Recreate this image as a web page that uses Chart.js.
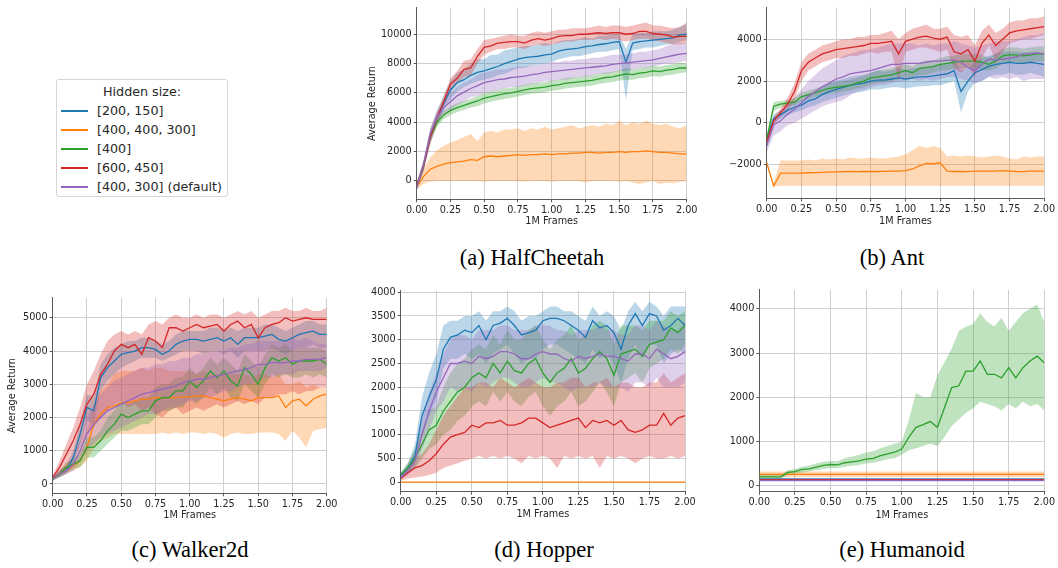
<!DOCTYPE html>
<html>
<head>
<meta charset="utf-8">
<script src="https://cdn.jsdelivr.net/npm/chart.js@4/dist/chart.umd.min.js"></script>
<style>
  body { margin: 0; background: #fff; width: 1058px; height: 568px; position: relative; overflow: hidden; font-family: 'DejaVu Sans', sans-serif; }
  canvas { position: absolute; }
  .cap { position: absolute; width: 240px; text-align: center; font-family: 'Liberation Serif', serif; font-size: 22.5px; line-height: 26px; color: #000; }
  #legend { position: absolute; left: 56px; top: 79px; width: 170px; height: 116px; border: 1px solid #d6d6d6; border-radius: 3px; font-size: 12.7px; color: #262626; }
  #legend .ttl { position: absolute; left: 0; width: 100%; top: 2px; line-height: 19px; text-align: center; }
  #legend .row { position: absolute; left: 0; width: 100%; height: 19px; line-height: 19px; }
  #legend .sw { position: absolute; left: 4px; top: 9px; width: 27px; height: 2px; }
  #legend .lb { position: absolute; left: 40px; top: 0; white-space: nowrap; }
</style>
</head>
<body>
<div id="legend"><div class="ttl">Hidden size:</div></div>
<div class="cap" style="left:412px; top:245px;">(a) HalfCheetah</div>
<div class="cap" style="left:772px; top:245px;">(b) Ant</div>
<div class="cap" style="left:70px; top:537px;">(c) Walker2d</div>
<div class="cap" style="left:424px; top:537px;">(d) Hopper</div>
<div class="cap" style="left:782px; top:537px;">(e) Humanoid</div>
<script>
// x positions (millions of frames), shared by most series
const frames = [0, 0.05, 0.1, 0.15, 0.2, 0.25, 0.3, 0.35, 0.4, 0.45,
  0.5, 0.55, 0.6, 0.65, 0.7, 0.75, 0.8, 0.85, 0.9, 0.95,
  1.0, 1.05, 1.1, 1.15, 1.2, 1.25, 1.3, 1.35, 1.4, 1.45,
  1.5, 1.55, 1.6, 1.65, 1.7, 1.75, 1.8, 1.85, 1.9, 1.95, 2.0];
const flatFrames = [0, 2];
const frameTicks = [0, 0.25, 0.5, 0.75, 1.0, 1.25, 1.5, 1.75, 2.0];

const seriesNames = ['[200, 150]', '[400, 400, 300]', '[400]', '[600, 450]', '[400, 300] (default)'];
const COLORS = ['#1f77b4', '#ff7f0e', '#2ca02c', '#d62728', '#9467bd'];

// ---- HalfCheetah ----
const cheetahTicks = [0, 2000, 4000, 6000, 8000, 10000];
const cheetahBlue = [-300, 1000, 3000, 4300, 5300, 6200, 6700, 6900, 7200, 7400,
  7500, 7650, 7800, 8000, 8150, 8300, 8400, 8450, 8500, 8600,
  8650, 8850, 8950, 9000, 9050, 9150, 9200, 9300, 9350, 9450,
  9500, 8100, 9400, 9500, 9550, 9600, 9650, 9700, 9750, 9950, 10000];
const cheetahBlueLo = [-600, 600, 2500, 3900, 4800, 5600, 6100, 6400, 6600, 6800,
  6900, 7000, 7200, 7300, 7500, 7700, 7700, 7900, 7900, 8000,
  8100, 8300, 8400, 8500, 8500, 8600, 8700, 8800, 8800, 8900,
  9000, 5500, 8900, 9000, 9100, 9100, 9200, 9300, 9300, 9500, 9600];
const cheetahBlueHi = [-100, 1400, 3500, 4800, 5800, 6800, 7400, 7600, 8000, 8300,
  8300, 8600, 8600, 8900, 9000, 9100, 9200, 9200, 9300, 9400,
  9300, 9500, 9600, 9600, 9700, 9800, 9700, 9900, 9900, 10000,
  10000, 9000, 10000, 10100, 10100, 10200, 10200, 10200, 10300, 10500, 10700];
const cheetahOrange = [-400, 300, 800, 1000, 1150, 1250, 1300, 1350, 1450, 1400,
  1650, 1700, 1650, 1700, 1750, 1800, 1750, 1800, 1800, 1850,
  1800, 1850, 1850, 1900, 1900, 1950, 1950, 1900, 1950, 1950,
  2000, 1950, 2000, 2000, 2050, 2000, 1950, 1950, 1900, 1850, 1850];
const cheetahOrangeLo = [-600, -200, -50, 0, 0, 0, 0, 0, 0, 0,
  -50, 0, 0, 0, 0, 0, -50, 0, 0, 0,
  -50, 0, 0, 0, 0, -100, 0, 0, 0, 0,
  -50, 0, -100, -200, -100, 0, -200, -100, -150, -50, 0];
const cheetahOrangeHi = [-200, 800, 1600, 2100, 2400, 2600, 2800, 3000, 3200, 2700,
  3300, 3400, 3300, 3500, 3500, 3600, 3400, 3600, 3500, 3700,
  3500, 3600, 3700, 3800, 3600, 3700, 3800, 3700, 3900, 3800,
  4100, 3800, 4000, 3900, 4100, 3900, 3800, 3900, 3700, 3600, 3800];
const cheetahGreen = [-400, 1000, 3000, 4000, 4500, 4800, 5000, 5150, 5300, 5450,
  5650, 5750, 5850, 5950, 6000, 6100, 6200, 6300, 6350, 6400,
  6500, 6550, 6650, 6700, 6750, 6800, 6850, 6950, 7050, 7100,
  7200, 7300, 7250, 7350, 7400, 7500, 7450, 7550, 7600, 7700, 7700];
const cheetahGreenLo = [-600, 700, 2700, 3700, 4200, 4500, 4700, 4850, 5000, 5100,
  5300, 5400, 5500, 5600, 5650, 5750, 5850, 5950, 6000, 6050,
  6150, 6200, 6300, 6350, 6400, 6450, 6500, 6600, 6700, 6750,
  6850, 6900, 6900, 7000, 7050, 7150, 7100, 7200, 7250, 7350, 7400];
const cheetahGreenHi = [-200, 1300, 3300, 4300, 4800, 5100, 5300, 5450, 5600, 5800,
  6000, 6100, 6200, 6300, 6350, 6450, 6550, 6650, 6700, 6750,
  6850, 6900, 7000, 7050, 7100, 7150, 7200, 7300, 7400, 7450,
  7550, 7700, 7600, 7700, 7750, 7850, 7800, 7900, 7950, 8050, 8000];
const cheetahRed = [-300, 1000, 3000, 4300, 5400, 6600, 7000, 7600, 7700, 8500,
  9100, 9200, 9400, 9450, 9500, 9500, 9400, 9600, 9700, 9600,
  9700, 9850, 9900, 9900, 10000, 10000, 10050, 10100, 10050, 10100,
  10100, 10000, 10050, 10200, 10200, 10050, 10000, 9950, 9800, 9850, 9850];
const cheetahRedLo = [-500, 700, 2500, 3800, 5000, 6100, 6600, 7100, 7200, 8000,
  8600, 8800, 9000, 9000, 9100, 9100, 9000, 9200, 9300, 9200,
  9300, 9400, 9500, 9500, 9600, 9600, 9600, 9700, 9600, 9700,
  9600, 9500, 9600, 9700, 9700, 9600, 9500, 9400, 9300, 9300, 9400];
const cheetahRedHi = [-100, 1300, 3400, 4700, 5800, 7000, 7500, 8200, 8300, 9000,
  9600, 9700, 9800, 9900, 10000, 9900, 9900, 10100, 10200, 10100,
  10200, 10300, 10300, 10400, 10400, 10400, 10500, 10600, 10500, 10600,
  10600, 10500, 10600, 10700, 10800, 10600, 10600, 10500, 10400, 10500, 10800];
const cheetahPurple = [-500, 1100, 3200, 4300, 5000, 5400, 5800, 6050, 6300, 6500,
  6700, 6800, 6900, 6950, 7050, 7100, 7150, 7250, 7300, 7400,
  7450, 7500, 7550, 7600, 7650, 7700, 7750, 7800, 7850, 7950,
  8000, 8050, 8100, 8150, 8200, 8250, 8350, 8450, 8550, 8650, 8700];
const cheetahPurpleLo = [-700, 800, 2800, 3900, 4500, 4800, 5200, 5400, 5700, 5800,
  6000, 6100, 6200, 6300, 6400, 6400, 6500, 6600, 6700, 6800,
  6800, 6900, 6900, 7000, 7100, 7100, 7200, 7300, 7300, 7400,
  7500, 7500, 7600, 7700, 7700, 7800, 7900, 8000, 8000, 8100, 8200];
const cheetahPurpleHi = [-300, 1400, 3600, 4700, 5500, 6000, 6400, 6700, 6900, 7200,
  7400, 7500, 7600, 7600, 7700, 7800, 7800, 7900, 7900, 8000,
  8100, 8100, 8200, 8200, 8300, 8300, 8400, 8400, 8500, 8600,
  8600, 8600, 8700, 8800, 8800, 8900, 9000, 9200, 9300, 9400, 9400];

// ---- Ant ----
const antTicks = [-2000, 0, 2000, 4000];
const antBlue = [-800, 200, 400, 600, 750, 850, 1050, 1150, 1350, 1500,
  1600, 1700, 1800, 1850, 1900, 2000, 2050, 2050, 2100, 2150,
  2100, 2150, 2200, 2200, 2250, 2300, 2350, 2500, 1500, 2000,
  2400, 2550, 2700, 2800, 2850, 2900, 2850, 2850, 2900, 2850, 2800];
const antBlueLo = [-1000, 0, 200, 350, 500, 600, 750, 850, 1000, 1100,
  1200, 1300, 1400, 1450, 1500, 1600, 1600, 1650, 1700, 1700,
  1650, 1700, 1750, 1750, 1800, 1800, 1900, 2000, 500, 1500,
  1900, 2000, 2200, 2300, 2300, 2400, 2300, 2300, 2400, 2300, 2200];
const antBlueHi = [-600, 400, 600, 850, 1000, 1100, 1350, 1450, 1700, 1900,
  2000, 2100, 2200, 2250, 2300, 2400, 2500, 2450, 2500, 2600,
  2550, 2600, 2650, 2650, 2700, 2800, 2800, 3000, 2500, 2600,
  2900, 3100, 3200, 3300, 3400, 3400, 3400, 3350, 3400, 3400, 3300];
const antOrange = [-1900, -3000, -2400, -2400, -2400, -2400, -2380, -2370, -2360, -2350,
  -2340, -2330, -2320, -2330, -2320, -2320, -2320, -2310, -2300, -2300,
  -2280, -2200, -2050, -1930, -1950, -1900, -2300, -2320, -2320, -2330,
  -2300, -2300, -2300, -2300, -2280, -2300, -2320, -2330, -2300, -2300, -2300];
const antOrangeLo = [-2000, -3050, -3000, -3000, -3000, -3000, -3000, -3000, -3000, -3000,
  -3000, -3000, -3000, -3000, -3000, -3000, -3000, -3000, -3000, -3000,
  -3000, -3000, -3000, -3000, -3000, -3000, -3000, -3000, -3000, -3000,
  -3000, -3000, -3000, -3000, -3000, -3000, -3000, -3000, -3000, -3000, -3000];
const antOrangeHi = [-1800, -2900, -1800, -1800, -1800, -1800, -1750, -1800, -1700, -1750,
  -1700, -1750, -1650, -1700, -1700, -1650, -1700, -1700, -1650, -1600,
  -1500, -1300, -1100, -1200, -1100, -1200, -1600, -1550, -1600, -1550,
  -1600, -1650, -1600, -1550, -1600, -1700, -1750, -1600, -1650, -1600, -1600];
const antGreen = [-800, 800, 900, 950, 1000, 1250, 1350, 1450, 1550, 1650,
  1700, 1750, 1800, 1900, 2000, 2150, 2200, 2250, 2300, 2400,
  2500, 2400, 2600, 2650, 2700, 2800, 2850, 2900, 2950, 2950,
  2950, 2900, 2800, 2950, 3200, 3250, 3250, 3200, 3250, 3300, 3300];
const antGreenLo = [-1000, 550, 750, 800, 850, 1050, 1150, 1250, 1350, 1400,
  1450, 1500, 1550, 1650, 1700, 1850, 1900, 1950, 2000, 2100,
  2200, 2100, 2300, 2300, 2400, 2500, 2500, 2600, 2600, 2600,
  2600, 2550, 2500, 2600, 2850, 2900, 2900, 2850, 2900, 2950, 2950];
const antGreenHi = [-600, 1000, 1050, 1100, 1200, 1450, 1550, 1650, 1750, 1900,
  1950, 2000, 2050, 2150, 2250, 2400, 2500, 2550, 2600, 2700,
  2800, 2700, 2900, 3000, 3000, 3100, 3200, 3200, 3300, 3300,
  3300, 3250, 3100, 3300, 3550, 3600, 3600, 3550, 3600, 3650, 3650];
const antRed = [-900, 100, 500, 900, 1500, 2500, 2900, 3100, 3300, 3400,
  3500, 3550, 3600, 3650, 3700, 3800, 3800, 3850, 3900, 3300,
  3900, 4000, 4100, 4150, 4050, 4000, 4100, 3400, 3300, 3500,
  2950, 3800, 4200, 3700, 4000, 4300, 4400, 4450, 4500, 4550, 4600];
const antRedLo = [-1100, -100, 300, 600, 1100, 2000, 2500, 2700, 2900, 3000,
  3100, 3100, 3200, 3200, 3300, 3400, 3300, 3400, 3400, 2000,
  3400, 3500, 3600, 3600, 3500, 3400, 3500, 2600, 2400, 2700,
  2200, 3100, 3700, 3000, 3400, 3800, 3900, 4000, 4000, 4100, 4200];
const antRedHi = [-700, 300, 700, 1200, 1900, 2900, 3300, 3500, 3700, 3800,
  3900, 4000, 4000, 4100, 4100, 4200, 4200, 4300, 4400, 4000,
  4300, 4500, 4600, 4700, 4500, 4500, 4600, 4200, 4100, 4200,
  3700, 4400, 4700, 4300, 4500, 4800, 4900, 4900, 5000, 5000, 5100];
const antPurple = [-1100, -100, 100, 420, 650, 960, 1270, 1500, 1730, 1900,
  2100, 2200, 2350, 2400, 2450, 2500, 2600, 2700, 2800, 2800,
  2850, 2850, 2850, 2900, 2950, 2950, 3000, 3000, 2900, 2650,
  2500, 2800, 3050, 3000, 3050, 3100, 3150, 3300, 3300, 3350, 3300];
const antPurpleLo = [-1400, -600, -400, -100, 0, 200, 400, 600, 800, 900,
  1000, 1100, 1300, 1500, 1600, 1700, 1800, 1800, 1900, 2000,
  2000, 2100, 2000, 2100, 2000, 2100, 2200, 2200, 2100, 2000,
  1900, 2000, 2200, 2100, 2200, 2100, 2200, 2000, 2100, 2100, 2100];
const antPurpleHi = [-800, 200, 400, 900, 1200, 1600, 2000, 2300, 2600, 2800,
  3000, 3200, 3300, 3400, 3500, 3500, 3600, 3700, 3800, 3800,
  3800, 3800, 3700, 3800, 3700, 3800, 3800, 3900, 3800, 3700,
  3600, 3700, 3800, 3900, 3900, 3900, 4000, 4100, 4200, 4200, 4300];

// ---- Walker2d ----
const walkerTicks = [0, 1000, 2000, 3000, 4000, 5000];
const walkerBlue = [150, 300, 400, 800, 1500, 2300, 2200, 3200, 3500, 3700,
  3900, 3950, 4000, 4100, 4100, 4050, 3900, 4000, 4200, 4300,
  4350, 4350, 4300, 4350, 4400, 4300, 4400, 4200, 4400, 4400,
  4400, 4450, 4500, 4350, 4300, 4400, 4500, 4550, 4600, 4500, 4500];
const walkerBlueLo = [120, 200, 300, 600, 1200, 1900, 1800, 2800, 3100, 3300,
  3500, 3600, 3700, 3800, 3800, 3800, 3700, 3800, 3900, 4000,
  4000, 4000, 3900, 4000, 4000, 3900, 4000, 3800, 4000, 4000,
  4000, 4000, 4100, 4000, 3900, 4000, 4100, 4100, 4200, 4100, 4100];
const walkerBlueHi = [180, 400, 550, 1000, 1800, 2700, 2600, 3600, 3900, 4100,
  4200, 4300, 4300, 4400, 4400, 4300, 4200, 4300, 4500, 4600,
  4600, 4600, 4600, 4700, 4700, 4600, 4700, 4600, 4700, 4700,
  4700, 4800, 4800, 4700, 4600, 4700, 4800, 4900, 4900, 4800, 4800];
const walkerOrange = [150, 300, 400, 550, 700, 1100, 1800, 2100, 2300, 2350,
  2450, 2450, 2500, 2550, 2550, 2600, 2600, 2600, 2600, 2620,
  2620, 2640, 2650, 2600, 2550, 2500, 2550, 2600, 2550, 2500,
  2600, 2600, 2600, 2650, 2300, 2500, 2550, 2350, 2550, 2650, 2700];
const walkerOrangeLo = [100, 200, 300, 400, 500, 700, 1100, 1300, 1400, 1500,
  1500, 1500, 1500, 1500, 1500, 1500, 1550, 1500, 1550, 1500,
  1550, 1550, 1500, 1550, 1500, 1400, 1500, 1550, 1500, 1500,
  1550, 1550, 1550, 1500, 1300, 1600, 1400, 1100, 1600, 1650, 1700];
const walkerOrangeHi = [200, 400, 600, 800, 1100, 1600, 2400, 2800, 3000, 3300,
  3400, 3400, 3400, 3500, 3400, 3500, 3500, 3400, 3400, 3400,
  3400, 3300, 3400, 3300, 3300, 3300, 3300, 3300, 3300, 3200,
  3300, 3300, 3200, 3300, 3000, 3000, 3100, 2900, 3000, 2900, 2900];
const walkerGreen = [150, 300, 500, 600, 700, 1100, 1100, 1300, 1600, 1800,
  2100, 2000, 2100, 2200, 2200, 2500, 2600, 2600, 2800, 2800,
  3100, 2900, 3100, 3400, 3200, 3400, 3100, 2950, 3500, 3300,
  3000, 3500, 3800, 3700, 3800, 3600, 3700, 3700, 3700, 3750, 3600];
const walkerGreenLo = [120, 200, 350, 450, 500, 800, 800, 1000, 1200, 1400,
  1600, 1600, 1700, 1800, 1800, 2000, 2200, 2200, 2300, 2300,
  2600, 2400, 2600, 2900, 2700, 2900, 2600, 2500, 3000, 2800,
  2600, 3000, 3300, 3200, 3300, 3200, 3200, 3300, 3200, 3300, 3200];
const walkerGreenHi = [200, 400, 650, 750, 900, 1400, 1400, 1600, 2000, 2200,
  2500, 2400, 2500, 2600, 2600, 2900, 3000, 3000, 3200, 3200,
  3500, 3300, 3500, 3800, 3600, 3800, 3600, 3400, 3900, 3700,
  3500, 3900, 4200, 4100, 4200, 4000, 4100, 4100, 4100, 4100, 4000];
const walkerRed = [200, 500, 900, 1300, 1800, 2400, 2700, 3300, 3600, 4000,
  4200, 4100, 4200, 3900, 4400, 4300, 4100, 4700, 4700, 4600,
  4700, 4800, 4700, 4750, 4800, 4600, 4800, 4900, 4700, 4800,
  4400, 4700, 4800, 4850, 5000, 4900, 4950, 5000, 4950, 4950, 4950];
const walkerRedLo = [150, 300, 500, 800, 1100, 1500, 1700, 2000, 2200, 2400,
  2500, 2300, 2400, 2200, 2300, 2100, 2000, 2200, 2300, 2100,
  2200, 2300, 2200, 2300, 2400, 2300, 2400, 2500, 2400, 2500,
  2400, 2600, 2600, 2700, 2700, 2800, 2700, 2800, 2800, 2900, 2900];
const walkerRedHi = [250, 700, 1200, 1700, 2300, 3000, 3400, 3900, 4300, 4500,
  4600, 4500, 4600, 4500, 4800, 4900, 4800, 5000, 5100, 5000,
  5000, 5100, 5000, 5100, 5100, 5000, 5100, 5200, 5100, 5200,
  5000, 5100, 5200, 5200, 5300, 5200, 5200, 5300, 5200, 5200, 5300];
const walkerPurple = [150, 300, 400, 600, 1000, 1500, 1800, 2000, 2200, 2300,
  2400, 2500, 2600, 2700, 2750, 2800, 2850, 2900, 2950, 3050,
  3100, 3150, 3150, 3200, 3250, 3300, 3350, 3400, 3450, 3500,
  3600, 3600, 3650, 3650, 3650, 3700, 3700, 3750, 3750, 3750, 3800];
const walkerPurpleLo = [100, 200, 300, 400, 700, 1000, 1200, 1400, 1500, 1600,
  1700, 1800, 1900, 2000, 2100, 2100, 2200, 2300, 2300, 2400,
  2500, 2500, 2600, 2600, 2700, 2800, 2800, 2900, 3000, 3000,
  3100, 3200, 3200, 3300, 3300, 3300, 3400, 3400, 3400, 3400, 3500];
const walkerPurpleHi = [200, 400, 550, 800, 1300, 2000, 2400, 2700, 2900, 3100,
  3200, 3300, 3400, 3500, 3500, 3600, 3600, 3700, 3700, 3800,
  3800, 3900, 3900, 4000, 4000, 4000, 4100, 4100, 4200, 4200,
  4300, 4300, 4300, 4300, 4300, 4400, 4300, 4400, 4300, 4200, 4200];

// ---- Hopper ----
const hopperTicks = [0, 500, 1000, 1500, 2000, 2500, 3000, 3500, 4000];
const hopperBlue = [150, 300, 550, 1400, 1800, 2150, 2800, 3050, 3100, 3200,
  3150, 3300, 3000, 3300, 3350, 3450, 3300, 3100, 3150, 3200,
  3400, 3450, 3450, 3400, 3300, 3200, 3050, 3400, 3250, 3300,
  3150, 2800, 3300, 3550, 3300, 3550, 3500, 3200, 3300, 3450, 3300];
const hopperBlueLo = [100, 200, 400, 1000, 1400, 1700, 2400, 2600, 2600, 2700,
  2600, 2700, 2500, 2700, 2800, 2900, 2700, 2500, 2600, 2600,
  2800, 2900, 2900, 2800, 2700, 2600, 2500, 2800, 2600, 2700,
  2500, 2100, 2600, 2900, 2600, 2900, 2900, 2500, 2700, 2800, 2700];
const hopperBlueHi = [200, 400, 800, 1800, 2300, 2700, 3300, 3400, 3400, 3500,
  3500, 3600, 3400, 3600, 3600, 3700, 3600, 3400, 3500, 3500,
  3600, 3700, 3700, 3600, 3600, 3500, 3400, 3700, 3500, 3600,
  3500, 3200, 3600, 3800, 3600, 3800, 3700, 3500, 3700, 3700, 3700];
const hopperOrange = [0, 0];
const hopperOrangeLo = [0, 0];
const hopperOrangeHi = [0, 0];
const hopperGreen = [150, 300, 500, 800, 1100, 1200, 1500, 1700, 1900, 2000,
  2200, 2300, 2200, 2500, 2300, 2550, 2350, 2300, 2500, 2600,
  2300, 2100, 2300, 2400, 2600, 2300, 2400, 2600, 2750, 2600,
  2250, 2700, 2750, 2800, 2650, 2900, 2950, 3000, 3250, 3150, 3300];
const hopperGreenLo = [100, 200, 300, 500, 700, 800, 1000, 1100, 1300, 1400,
  1600, 1700, 1600, 1900, 1700, 1900, 1700, 1600, 1800, 1900,
  1600, 1400, 1600, 1700, 1900, 1600, 1700, 1900, 2100, 1900,
  1600, 2100, 2200, 2300, 2100, 2400, 2500, 2600, 2800, 2700, 2900];
const hopperGreenHi = [200, 400, 700, 1100, 1500, 1600, 2000, 2300, 2500, 2600,
  2800, 2900, 2800, 3100, 2900, 3200, 3000, 3000, 3200, 3300,
  3000, 2800, 3000, 3100, 3300, 3000, 3100, 3300, 3400, 3300,
  2900, 3300, 3300, 3300, 3200, 3400, 3400, 3400, 3600, 3500, 3600];
const hopperRed = [80, 200, 300, 350, 450, 600, 800, 950, 1000, 1050,
  1200, 1150, 1250, 1250, 1300, 1200, 1200, 1250, 1350, 1350,
  1250, 1150, 1200, 1250, 1300, 1350, 1150, 1300, 1250, 1300,
  1200, 1300, 1100, 1050, 1100, 1200, 1200, 1450, 1200, 1350, 1400];
const hopperRedLo = [30, 80, 100, 120, 150, 200, 300, 350, 400, 450,
  500, 550, 500, 550, 500, 550, 500, 400, 550, 500,
  550, 500, 300, 550, 500, 550, 500, 550, 300, 550,
  500, 550, 500, 400, 500, 550, 500, 500, 550, 500, 550];
const hopperRedHi = [120, 300, 500, 600, 800, 1100, 1400, 1600, 1800, 2000,
  2000, 2100, 2100, 2000, 2200, 2100, 2000, 2100, 2200, 2100,
  2000, 2000, 2100, 2100, 2200, 2200, 2000, 2100, 2100, 2200,
  2000, 2100, 2100, 2000, 2000, 2100, 2100, 2300, 2100, 2200, 2300];
const hopperPurple = [100, 250, 450, 1000, 1500, 1900, 2200, 2500, 2500, 2550,
  2500, 2650, 2600, 2650, 2750, 2750, 2700, 2600, 2600, 2700,
  2750, 2700, 2700, 2600, 2550, 2650, 2600, 2650, 2700, 2650,
  2650, 2600, 2550, 2700, 2700, 2600, 2800, 2700, 2600, 2650, 2750];
const hopperPurpleLo = [60, 150, 300, 700, 1100, 1500, 1700, 2000, 1900, 2000,
  1900, 2100, 2000, 2100, 2200, 2200, 2100, 2000, 2000, 2100,
  2200, 2100, 2100, 2000, 1900, 2000, 2000, 2000, 2100, 2000,
  2000, 2000, 1900, 2100, 2100, 2000, 2200, 2000, 2000, 2000, 2100];
const hopperPurpleHi = [150, 350, 650, 1300, 1900, 2300, 2700, 3000, 3100, 3100,
  3000, 3200, 3200, 3200, 3300, 3300, 3200, 3200, 3200, 3300,
  3300, 3300, 3200, 3200, 3100, 3200, 3200, 3200, 3300, 3200,
  3200, 3100, 3100, 3300, 3300, 3200, 3400, 3300, 3200, 3200, 3400];

// ---- Humanoid ----
const humanoidTicks = [0, 1000, 2000, 3000, 4000];
const humanoidBlue = [150, 150];
const humanoidBlueLo = [125, 125];
const humanoidBlueHi = [175, 175];
const humanoidOrange = [255, 255];
const humanoidOrangeLo = [200, 200];
const humanoidOrangeHi = [320, 320];
const humanoidGreen = [200, 200, 200, 200, 300, 320, 370, 380, 420, 460,
  480, 470, 520, 540, 560, 600, 620, 680, 720, 760,
  830, 1100, 1320, 1380, 1450, 1320, 1770, 2220, 2260, 2590,
  2590, 2820, 2520, 2520, 2440, 2670, 2440, 2670, 2820, 2930, 2780];
const humanoidGreenLo = [150, 150, 150, 150, 250, 270, 300, 320, 350, 380,
  400, 400, 430, 450, 470, 500, 520, 560, 600, 620,
  700, 800, 850, 900, 950, 900, 1100, 1350, 1500, 1650,
  1750, 1900, 1850, 1800, 1700, 1850, 1750, 1900, 1800, 1850, 1700];
const humanoidGreenHi = [250, 250, 250, 250, 350, 380, 430, 460, 500, 540,
  560, 560, 620, 660, 700, 750, 780, 850, 900, 950,
  1000, 1500, 2100, 2000, 2000, 2500, 2800, 3100, 3500, 3600,
  3650, 3900, 3700, 3600, 3800, 3500, 3700, 3900, 4000, 4100, 3700];
const humanoidRed = [140, 140];
const humanoidRedLo = [120, 120];
const humanoidRedHi = [160, 160];
const humanoidPurple = [120, 120];
const humanoidPurpleLo = [90, 90];
const humanoidPurpleHi = [155, 155];

const TEXT = '#262626';
const GRID = '#cfcfcf';
const AXIS = '#5a5a5a';
const TICK_FONT = { family: 'DejaVu Sans', size: 9.7 };

function pts(xs, ys) {
  return xs.map((x, i) => ({ x: x, y: ys[i] }));
}

function fade(hex, a) {
  const n = parseInt(hex.slice(1), 16);
  return `rgba(${n >> 16}, ${(n >> 8) & 255}, ${n & 255}, ${a})`;
}

function fmtY(v) {
  return v < 0 ? '\u2212' + Math.abs(v) : String(v);
}

// one series -> band (hi filled down to lo) + mean line
function seriesSets(xs, mean, lo, hi, k) {
  const c = COLORS[k];
  return [
    { data: pts(xs, hi), borderWidth: 0, backgroundColor: fade(c, 0.3), fill: '+1', order: 30 - k },
    { data: pts(xs, lo), borderWidth: 0, fill: false, order: 30 - k },
    { data: pts(xs, mean), borderColor: c, borderWidth: 1.3, fill: false, order: 10 - k },
  ];
}

const panels = [
  {
    left: 363, top: 0, w: 337, h: 231, yw: 53.7, xh: 31.7, padTop: 6.7, padRight: 13.3,
    yMin: -1250, yMax: 11800, yTicks: cheetahTicks, yTitle: true,
    series: [
      [frames, cheetahBlue, cheetahBlueLo, cheetahBlueHi],
      [frames, cheetahOrange, cheetahOrangeLo, cheetahOrangeHi],
      [frames, cheetahGreen, cheetahGreenLo, cheetahGreenHi],
      [frames, cheetahRed, cheetahRedLo, cheetahRedHi],
      [frames, cheetahPurple, cheetahPurpleLo, cheetahPurpleHi],
    ],
  },
  {
    left: 710, top: 0, w: 348, h: 231, yw: 56.7, xh: 32.7, padTop: 1.7, padRight: 13.7,
    yMin: -3600, yMax: 5500, yTicks: antTicks, yTitle: false,
    series: [
      [frames, antBlue, antBlueLo, antBlueHi],
      [frames, antOrange, antOrangeLo, antOrangeHi],
      [frames, antGreen, antGreenLo, antGreenHi],
      [frames, antRed, antRedLo, antRedHi],
      [frames, antPurple, antPurpleLo, antPurpleHi],
    ],
  },
  {
    left: 3, top: 290, w: 337, h: 235, yw: 49.7, xh: 31.7, padTop: 6.7, padRight: 13.3,
    yMin: -280, yMax: 5600, yTicks: walkerTicks, yTitle: true,
    series: [
      [frames, walkerBlue, walkerBlueLo, walkerBlueHi],
      [frames, walkerOrange, walkerOrangeLo, walkerOrangeHi],
      [frames, walkerGreen, walkerGreenLo, walkerGreenHi],
      [frames, walkerRed, walkerRedLo, walkerRedHi],
      [frames, walkerPurple, walkerPurpleLo, walkerPurpleHi],
    ],
  },
  {
    left: 350, top: 283, w: 350, h: 241, yw: 50.7, xh: 32.3, padTop: 6.3, padRight: 15,
    yMin: -200, yMax: 4030, yTicks: hopperTicks, yTitle: false,
    series: [
      [frames, hopperBlue, hopperBlueLo, hopperBlueHi],
      [flatFrames, hopperOrange, hopperOrangeLo, hopperOrangeHi],
      [frames, hopperGreen, hopperGreenLo, hopperGreenHi],
      [frames, hopperRed, hopperRedLo, hopperRedHi],
      [frames, hopperPurple, hopperPurpleLo, hopperPurpleHi],
    ],
  },
  {
    left: 710, top: 282, w: 348, h: 243, yw: 49.3, xh: 33.3, padTop: 6.3, padRight: 13.7,
    yMin: -135, yMax: 4430, yTicks: humanoidTicks, yTitle: false,
    series: [
      [flatFrames, humanoidBlue, humanoidBlueLo, humanoidBlueHi],
      [flatFrames, humanoidOrange, humanoidOrangeLo, humanoidOrangeHi],
      [frames, humanoidGreen, humanoidGreenLo, humanoidGreenHi],
      [flatFrames, humanoidRed, humanoidRedLo, humanoidRedHi],
      [flatFrames, humanoidPurple, humanoidPurpleLo, humanoidPurpleHi],
    ],
  },
];

panels.forEach((p) => {
  const cv = document.createElement('canvas');
  cv.width = p.w;
  cv.height = p.h;
  cv.style.left = p.left + 'px';
  cv.style.top = p.top + 'px';
  cv.style.width = p.w + 'px';
  cv.style.height = p.h + 'px';
  document.body.appendChild(cv);

  const datasets = [];
  p.series.forEach((s, k) => datasets.push(...seriesSets(s[0], s[1], s[2], s[3], k)));

  new Chart(cv.getContext('2d'), {
    type: 'line',
    data: { datasets },
    options: {
      responsive: false,
      animation: false,
      events: [],
      layout: { padding: { top: p.padTop, right: p.padRight, left: 0, bottom: 0 }, autoPadding: false },
      elements: { point: { radius: 0 }, line: { tension: 0 } },
      plugins: { legend: { display: false }, tooltip: { enabled: false } },
      scales: {
        x: {
          type: 'linear',
          min: 0,
          max: 2,
          afterBuildTicks: (s) => { s.ticks = frameTicks.map((v) => ({ value: v })); },
          afterFit: (s) => { s.height = p.xh; },
          ticks: { callback: (v) => Number(v).toFixed(2), font: TICK_FONT, color: TEXT, padding: 2, maxRotation: 0, autoSkip: false },
          grid: { color: GRID, lineWidth: 1, tickColor: AXIS, tickLength: 3 },
          border: { color: AXIS, width: 1 },
          title: { display: true, text: '1M Frames', font: TICK_FONT, color: TEXT },
        },
        y: {
          type: 'linear',
          min: p.yMin,
          max: p.yMax,
          afterBuildTicks: (s) => { s.ticks = p.yTicks.map((v) => ({ value: v })); },
          afterFit: (s) => { s.width = p.yw; },
          ticks: { callback: (v) => fmtY(v), font: TICK_FONT, color: TEXT, padding: 2 },
          grid: { color: GRID, lineWidth: 1, tickColor: AXIS, tickLength: 3 },
          border: { color: AXIS, width: 1 },
          title: { display: p.yTitle, text: 'Average Return', font: TICK_FONT, color: TEXT },
        },
      },
    },
  });
});

// legend box
const legend = document.getElementById('legend');
seriesNames.forEach((name, k) => {
  const row = document.createElement('div');
  row.className = 'row';
  row.style.top = (20.5 + 19 * k) + 'px';
  const sw = document.createElement('div');
  sw.className = 'sw';
  sw.style.background = COLORS[k];
  const lb = document.createElement('span');
  lb.className = 'lb';
  lb.textContent = name;
  row.appendChild(sw);
  row.appendChild(lb);
  legend.appendChild(row);
});
</script>
</body>
</html>
